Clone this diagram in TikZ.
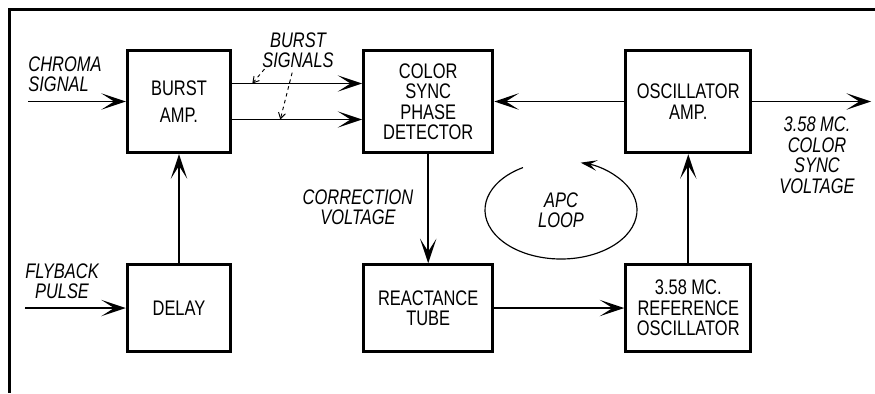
\documentclass[tikz,border=0pt]{standalone}
\usepackage{fontspec}
\setmainfont{Liberation Sans}[FakeStretch=0.78]
\usepackage{tikz}
\usetikzlibrary{positioning,arrows.meta,calc}

\begin{document}
\begin{tikzpicture}[
    x=0.03cm, y=-0.03cm,
    node distance=3.27cm and 3.9cm,
    font=\fontsize{18pt}{17.5pt}\selectfont,
    box/.style={rectangle, draw, line width=2.6pt, minimum height=3.07cm, align=center},
    lowbox/.style={box, minimum height=2.6cm},
    lbl/.style={font=\fontsize{18pt}{17.5pt}\selectfont\itshape, align=center, inner sep=1pt},
    arrow/.style={-{Stealth[length=21pt, width=14pt, inset=11pt]}, line width=1.5pt},
    pointer/.style={-{Straight Barb[length=5pt, width=6pt]}, dashed, line width=0.8pt},
    looparrow/.style={-{Stealth[length=14pt, width=9pt, inset=6pt]}, line width=1pt}
]
\useasboundingbox (0,0) rectangle (875,393);

\node[box, minimum width=3.1cm] (burst) at (179,101.5) {BURST\\[6pt]AMP.};
\node[box, minimum width=3.87cm, right=of burst] (detector) {COLOR\\SYNC\\PHASE\\DETECTOR};
\node[box, minimum width=3.75cm, right=of detector] (oscamp) {OSCILLATOR\\AMP.};
\node[lowbox, minimum width=3.1cm, below=of burst] (delay) {DELAY};
\node[lowbox, minimum width=3.87cm, below=of detector] (reactance) {REACTANCE\\TUBE};
\node[lowbox, minimum width=3.75cm, below=of oscamp] (refosc) {3.58 MC.\\REFERENCE\\OSCILLATOR};

\node[lbl, align=left] (chroma) at (65,74) {CHROMA\\SIGNAL};
\node[lbl] (signals) at (298,50) {BURST\\SIGNALS};
\node[lbl] (flyback) at (62,281) {FLYBACK\\PULSE};
\node[lbl] (correction) at (358,207) {CORRECTION\\VOLTAGE};
\node[lbl] (apc) at (561,210) {APC\\LOOP};
\node[lbl] (colorsync) at (817,155) {3.58 MC.\\COLOR\\SYNC\\VOLTAGE};

\coordinate (chromain) at (28,101.5);
\coordinate (flyin) at (25,308);
\coordinate (syncout) at (871,101.5);

\draw[line width=2.6pt] (875,9.5) -- (9.5,9.5) -- (9.5,393);

\draw[arrow] (chromain) -- (burst.west);
\draw[arrow] (flyin) -- (delay.west);
\draw[arrow] (delay) -- (burst);
\draw[arrow] ([yshift=0.54cm]burst.east) -- coordinate[pos=0.155] (burst1) ([yshift=0.54cm]detector.west);
\draw[arrow] ([yshift=-0.54cm]burst.east) -- coordinate[pos=0.37] (burst2) ([yshift=-0.54cm]detector.west);
\draw[arrow] (detector) -- (reactance);
\draw[arrow] (reactance) -- (refosc);
\draw[arrow] (refosc) -- (oscamp);
\draw[arrow] (oscamp) -- (detector);
\draw[arrow] (oscamp.east) -- (syncout);

\draw[pointer] ([xshift=3pt]signals.south west) -- (burst1);
\draw[pointer] ([xshift=-5pt,yshift=-3pt]signals.south) -- (burst2);

\draw[looparrow] ([shift={(120:2.28cm and 1.47cm)}]apc.center) arc[start angle=120, end angle=435, x radius=2.28cm, y radius=1.47cm];

\end{tikzpicture}
\end{document}
